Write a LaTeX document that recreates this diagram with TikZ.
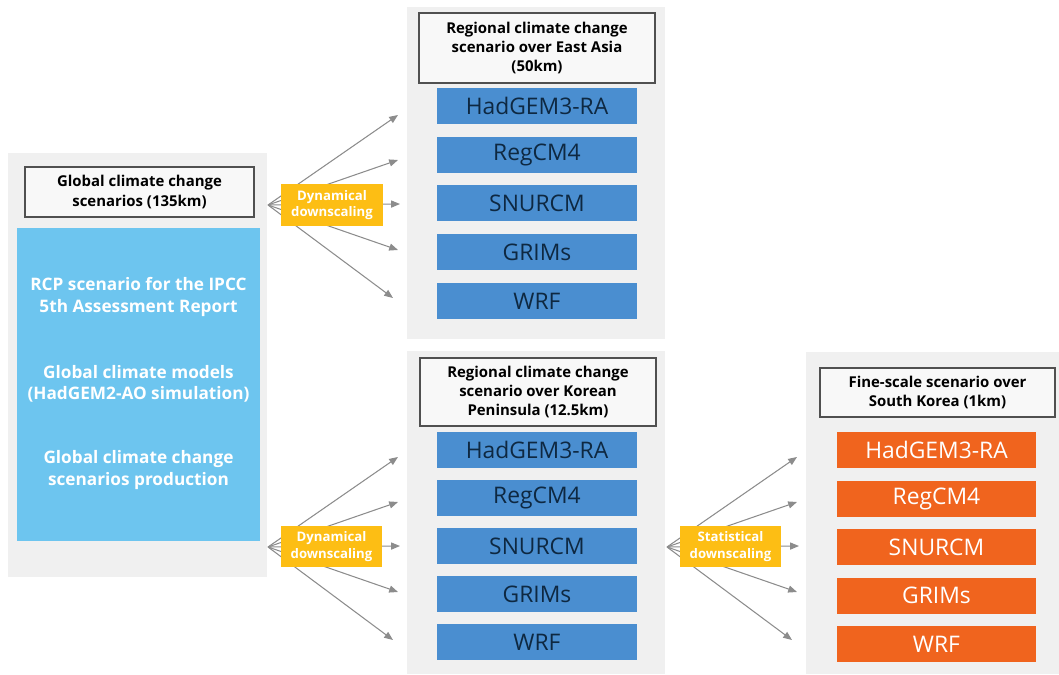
\documentclass[tikz,border=0pt]{standalone}
\usepackage{fontspec}
\setmainfont{Open Sans}
\usepackage{tikz}
\usetikzlibrary{arrows.meta}

\definecolor{panelgray}{HTML}{F0F0F0}
\definecolor{titlefill}{HTML}{F8F8F8}
\definecolor{boxline}{HTML}{505050}
\definecolor{skyblue}{HTML}{6DC5EF}
\definecolor{modelblue}{HTML}{4A8ED0}
\definecolor{navy}{HTML}{0E2841}
\definecolor{methodyellow}{HTML}{FDBE14}
\definecolor{fineorange}{HTML}{F0641E}
\definecolor{arrowgray}{HTML}{8C8C8C}

\begin{document}
\begin{tikzpicture}[
    x=0.02cm, y=-0.02cm,
    panel/.style={fill=panelgray},
    titlebox/.style={draw=boxline, fill=titlefill, line width=0.8pt, align=center,
        inner sep=0pt, font=\bfseries\fontsize{8.5}{11}\selectfont},
    gcmtext/.style={text=white, align=center, font=\bfseries\fontsize{9.8}{12}\selectfont},
    model/.style={fill=modelblue, text=navy, minimum width=4cm, minimum height=0.72cm,
        inner sep=0pt, font=\fontsize{13}{15}\selectfont},
    finemodel/.style={model, fill=fineorange, text=white},
    method/.style={fill=methodyellow, text=white, align=center, minimum width=2.04cm,
        minimum height=0.84cm, inner sep=0pt, font=\bfseries\fontsize{7.5}{9.5}\selectfont},
    fan/.style={draw=arrowgray, line width=0.6pt, -{Triangle[length=5pt,width=4pt]}}
]
\useasboundingbox (0,0) rectangle (1059,675);

% panels
\fill[panel] (8,153) rectangle (267,577);
\fill[panel] (407,7) rectangle (665,339);
\fill[panel] (407,351) rectangle (665,674);
\fill[panel] (806,352) rectangle (1059,674);

% global
\node[titlebox, minimum width=4.58cm, minimum height=1.0cm] (gcmtitle) at (139.5,192)
    {Global climate change\\scenarios (135km)};
\node[fill=skyblue, minimum width=4.86cm, minimum height=6.26cm, inner sep=0pt] (gcm) at (138.5,384.5) {};
\node[gcmtext] (rcp) at (138.5,297) {RCP scenario for the IPCC\\5th Assessment Report};
\node[gcmtext] (hadgem2) at (138.5,384) {Global climate models\\(HadGEM2-AO simulation)};
\node[gcmtext] (prod) at (138.5,470) {Global climate change\\scenarios production};

% east asia
\node[titlebox, minimum width=4.72cm, minimum height=1.4cm] (eatitle) at (537,48)
    {Regional climate change\\scenario over East Asia\\(50km)};
\foreach \m [count=\i] in {HadGEM3-RA,RegCM4,SNURCM,GRIMs,WRF}
    \node[model] (ea\i) at (537,{106+48.75*(\i-1)}) {\m};

% korean peninsula
\node[titlebox, minimum width=4.72cm, minimum height=1.36cm] (kptitle) at (538,392)
    {Regional climate change\\scenario over Korean\\Peninsula (12.5km)};
\foreach \m [count=\i] in {HadGEM3-RA,RegCM4,SNURCM,GRIMs,WRF}
    \node[model] (kp\i) at (537,{450+48*(\i-1)}) {\m};

% south korea
\node[titlebox, minimum width=4.7cm, minimum height=0.98cm] (sktitle) at (937.5,392.5)
    {Fine-scale scenario over\\South Korea (1km)};
\foreach \m [count=\i] in {HadGEM3-RA,RegCM4,SNURCM,GRIMs,WRF}
    \node[finemodel] (sk\i) at (936.5,{450+48.6*(\i-1)}) {\m};

% fans
\coordinate (src1) at (268,205);
\coordinate (src2) at (268,547);
\coordinate (src3) at (667,547);
\foreach \s in {src1,src2,src3}
    \foreach \dx/\dy [count=\i] in {130/-90,130/-45,132/-1,130/45,125/93} {
        \path (\s) ++(\dx,\dy) coordinate (\s tip\i);
        \draw[fan] (\s) -- (\s tip\i);
    }

\node[method] (dyn1) at (332,205) {Dynamical\\downscaling};
\node[method] (dyn2) at (331.5,546.5) {Dynamical\\downscaling};
\node[method] (stat) at (730.5,546.5) {Statistical\\downscaling};

\end{tikzpicture}
\end{document}
